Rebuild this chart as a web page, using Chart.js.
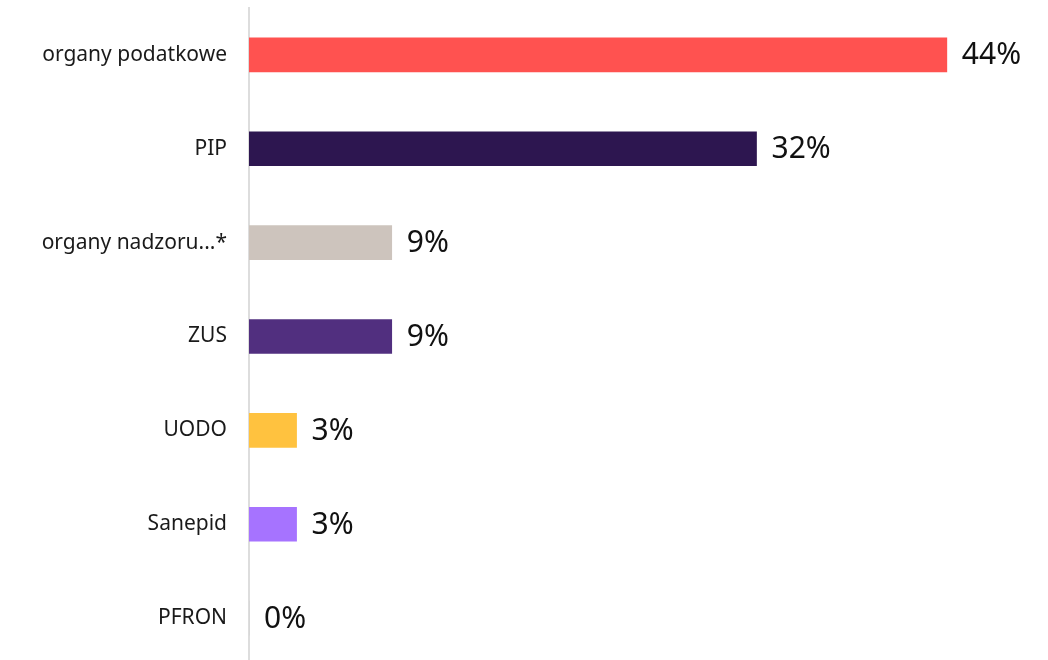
<!DOCTYPE html>
<html lang="pl">
<head>
    <meta charset="UTF-8"/>
    <title>Kontrole</title>
    <style>
        html, body { margin: 0; padding: 0; background: #fff; overflow: hidden; }
        .chart-container { position: relative; width: 1048px; height: 670px; }
    </style>
    <script src="https://cdn.jsdelivr.net/npm/chart.js"></script>
</head>
<body>
    <div class="chart-container">
        <canvas id="myChart" width="1048" height="670"></canvas>
    </div>
    <script>
        var kategorie = ['organy podatkowe', 'PIP', 'organy nadzoru...*', 'ZUS', 'UODO', 'Sanepid', 'PFRON'];
        var wartosci = [44, 32, 9, 9, 3, 3, 0];
        var kolory = ['#FF5250', '#2D1650', '#CDC4BD', '#512F7F', '#FFC23F', '#A673FF', '#CCCCCC'];

        // etykiety z procentami na koncu slupkow
        var etykietyPlugin = {
            id: 'etykiety',
            afterDatasetsDraw: function(chart) {
                var ctx = chart.ctx;
                var meta = chart.getDatasetMeta(0);
                ctx.save();
                ctx.font = '30px "Noto Sans", sans-serif';
                ctx.fillStyle = '#111';
                ctx.textAlign = 'left';
                ctx.textBaseline = 'middle';
                meta.data.forEach(function(bar, i) {
                    ctx.fillText(wartosci[i] + '%', bar.x + 15, bar.y + 1);
                });
                ctx.restore();
            }
        };

        var ctx = document.getElementById('myChart').getContext('2d');
        var myChart = new Chart(ctx, {
            type: 'bar',
            data: {
                labels: kategorie,
                datasets: [{
                    data: wartosci,
                    backgroundColor: kolory,
                    barThickness: 34
                }]
            },
            options: {
                indexAxis: 'y',
                responsive: false,
                animation: false,
                layout: { padding: { top: 8, bottom: 5, right: 6, left: 0 } },
                plugins: {
                    legend: { display: false },
                    tooltip: { enabled: false }
                },
                scales: {
                    x: {
                        display: false,
                        min: 0,
                        max: 50
                    },
                    y: {
                        afterFit: function(scale) {
                            scale.width = 249;
                            scale.paddingTop = 0;
                            scale.paddingBottom = 0;
                        },
                        grid: { display: false, drawTicks: false },
                        border: { display: true, color: '#DDDDDD', width: 2 },
                        ticks: {
                            padding: 22,
                            color: '#1a1a1a',
                            font: { family: '"Noto Sans", sans-serif', size: 21 }
                        }
                    }
                }
            },
            plugins: [etykietyPlugin]
        });
    </script>
</body>
</html>
